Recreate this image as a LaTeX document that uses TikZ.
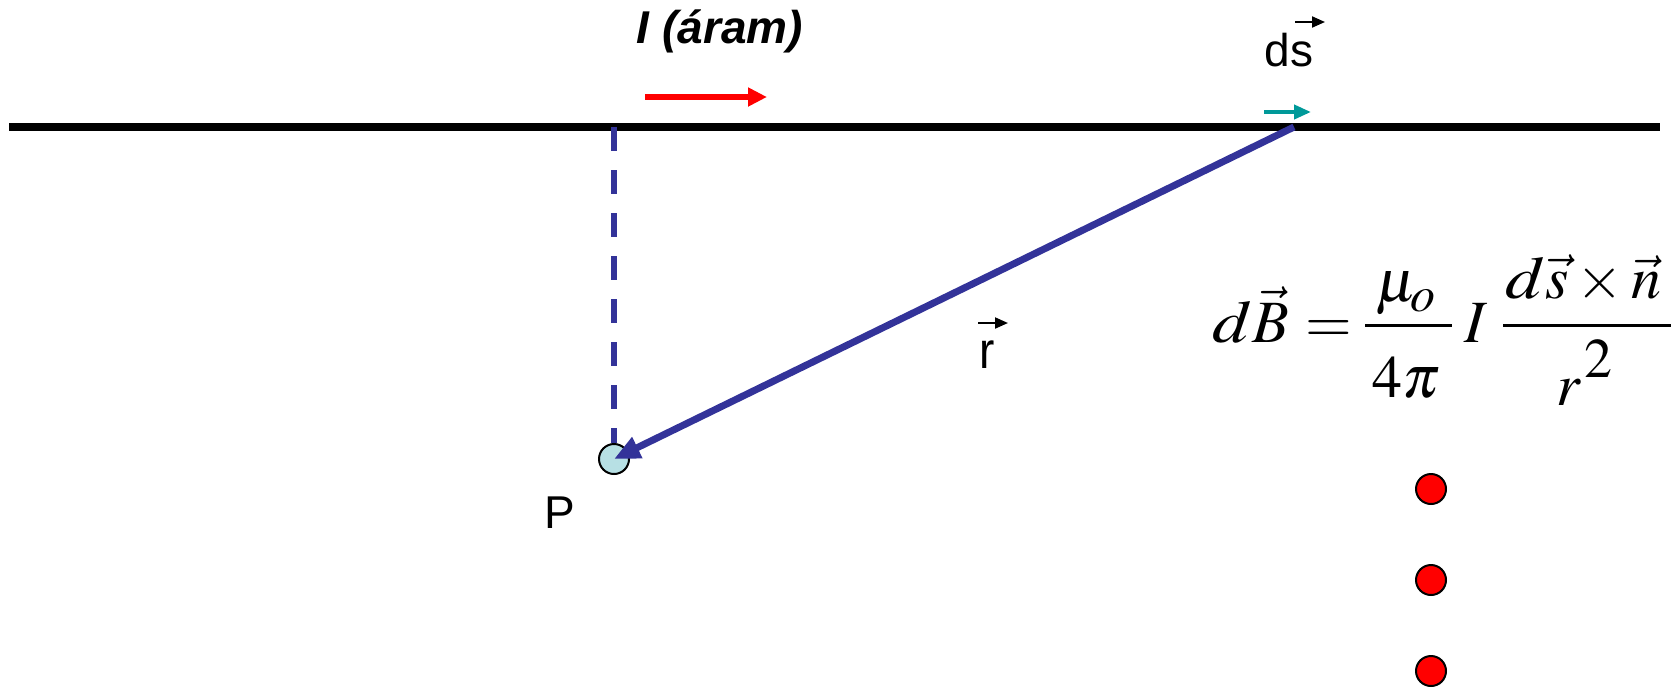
\documentclass[tikz,border=0pt]{standalone}
\usepackage{mathptmx}
\usepackage[no-math]{fontspec}
\setmainfont{Liberation Sans}
\usetikzlibrary{arrows.meta}
\definecolor{wireblue}{RGB}{51,51,153}
\definecolor{dsteal}{RGB}{0,153,153}
\definecolor{pfill}{RGB}{183,224,228}
\newcommand{\wided}{\scalebox{1.2}[1]{$d$}}
\begin{document}
\begin{tikzpicture}[x=0.5pt,y=-0.5pt,
  wire/.style={line width=4pt,black},
  rvec/.style={line width=3.5pt,wireblue,-{Triangle[length=13pt,width=11pt]}},
  perp/.style={line width=3pt,wireblue,dash pattern=on 12pt off 9.5pt},
  curarrow/.style={line width=3pt,red,-{Triangle[length=9.5pt,width=9pt]}},
  dsarrow/.style={line width=2pt,dsteal,-{Triangle[length=8.5pt,width=7pt]}},
  vecmark/.style={line width=1pt,black,-{Triangle[length=6.5pt,width=5.5pt]}},
  lbl/.style={inner sep=0pt,font=\fontsize{23}{27}\selectfont},
  fm/.style={inner sep=0pt,font=\fontsize{30}{34}\selectfont},
  fbar/.style={line width=1.5pt,black},
  dot/.style={circle,draw=black,line width=1pt,fill=red,minimum size=15pt,inner sep=0pt},
  pdot/.style={circle,draw=black,line width=1pt,fill=pfill,minimum size=15pt,inner sep=0pt}]
\useasboundingbox (0,0) rectangle (1671,692);
% wire
\coordinate (wl) at (9,127);
\coordinate (wr) at (1660,127);
\draw[wire] (wl) -- (wr);
% points
\coordinate (foot) at (614,127);
\coordinate (src) at (1294,127);
\node[pdot] (P) at (614,459) {};
\draw[perp] (foot) -- (P.north);
\draw[rvec] (src) -- (P.center);
% current arrow
\coordinate (ia) at (645,97);
\coordinate (ib) at (767,97);
\draw[curarrow] (ia) -- (ib);
\node[lbl,font=\fontsize{23}{27}\selectfont\bfseries\itshape] (Ilbl) at (720,31) {I (áram)};
% ds element arrow
\coordinate (da) at (1264,112);
\coordinate (db) at (1311,112);
\draw[dsarrow] (da) -- (db);
\node[lbl] (dslbl) at (1289,50) {ds};
\coordinate (dsa) at (1295,22);
\coordinate (dsb) at (1325,22);
\draw[vecmark] (dsa) -- (dsb);
% r label
\node[lbl] (rlbl) at (987,355) {\scalebox{1}[1.12]{r}};
\coordinate (ra) at (978,323);
\coordinate (rb) at (1008,323);
\draw[vecmark] (ra) -- (rb);
% P label
\node[lbl] (Plbl) at (560,513) {P};
% formula
\node[fm,anchor=base west] (lhs) at (1212,342) {$\wided\vec{B}$};
\node[fm,anchor=base] (eq) at (1329,342) {$=$};
\coordinate (b1a) at (1365,325);
\coordinate (b1b) at (1452,325);
\draw[fbar] (b1a) -- (b1b);
\node[fm,anchor=base] (num1) at (1406,301) {$\mu\mkern-2mu\raisebox{-5pt}{\fontsize{25}{28}\selectfont$o$}$};
\node[fm,anchor=base] (den1) at (1406,397) {$4\pi$};
\node[fm,anchor=base] (Ivar) at (1476,342) {$I$};
\coordinate (b2a) at (1503,325);
\coordinate (b2b) at (1690,325);
\draw[fbar] (b2a) -- (b2b);
\node[fm,anchor=base west] (num2) at (1505,298) {$\wided\vec{s}\times\vec{n}$};
\node[fm,anchor=base west] (den2) at (1556,405) {$r\mkern1mu\raisebox{14pt}{\fontsize{28}{32}\selectfont$2$}$};
% dots
\node[dot] (d1) at (1431,489) {};
\node[dot] (d2) at (1431,580) {};
\node[dot] (d3) at (1431,671) {};
\end{tikzpicture}
\end{document}
